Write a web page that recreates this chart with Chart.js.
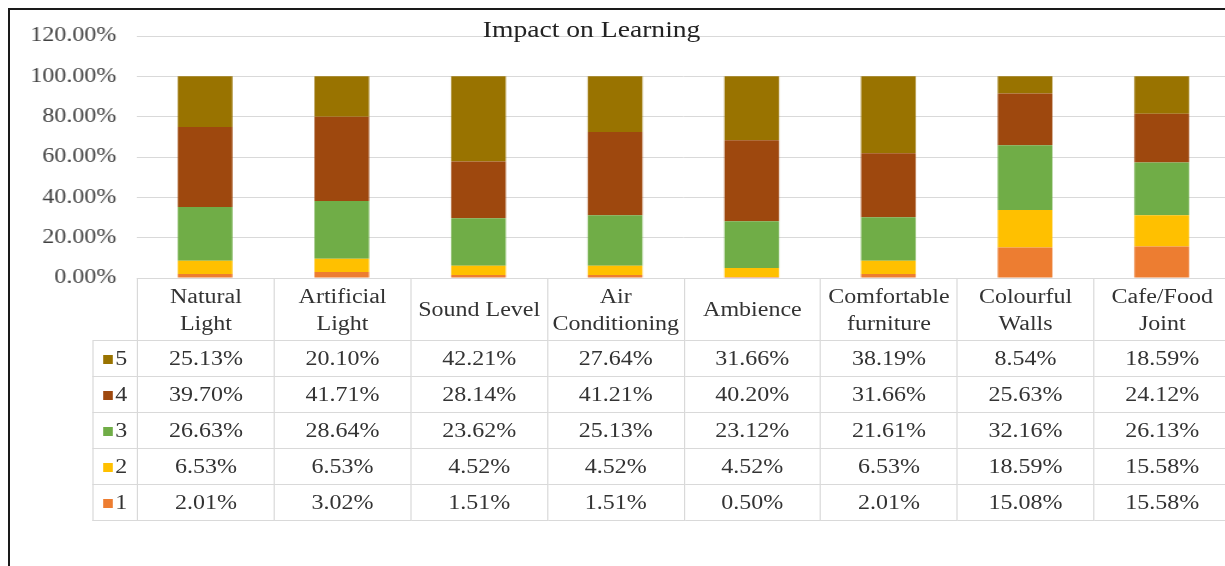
<!DOCTYPE html>
<html>
<head>
<meta charset="utf-8">
<script src="https://cdn.jsdelivr.net/npm/chart.js"></script>
<style>
  html, body { margin: 0; padding: 0; background: #fff; overflow: hidden; width: 1225px; height: 566px; }
  #frame { position: absolute; left: 8px; top: 8px; width: 1300px; height: 700px; border-top: 2px solid #1a1a1a; border-left: 2px solid #1a1a1a; }
  /* the source picture is stretched ~1.2x sideways, so the whole drawing is too */
  #wrap { position: absolute; left: 0; top: 0; width: 1040px; height: 566px; transform: scaleX(1.2); transform-origin: 0 0; }
  #title { position: absolute; left: 0; top: 18px; width: 986px; text-align: center; font: 23px/23px "Liberation Serif", "Times New Roman", serif; color: #222; }
  #chart { position: absolute; left: 0; top: 7px; }
  #table { position: absolute; left: 76.7px; top: 278px; border-collapse: collapse; table-layout: fixed; font-family: "Liberation Serif", "Times New Roman", serif; font-size: 20px; color: #333; }
  #table td { border: 1px solid #d9d9d9; text-align: center; padding: 0; height: 35px; white-space: nowrap; }
  #table tr.head td { height: 61px; line-height: 27px; }
  #table tr.head td.blank { border-top: none; border-left: none; }
  .sw { display: inline-block; width: 8px; height: 9px; margin-right: 2px; vertical-align: 1px; }
</style>
</head>
<body>
<div id="frame"></div>
<div id="wrap">
  <canvas id="chart" width="1030" height="300"></canvas>
  <div id="title">Impact on Learning</div>
  <table id="table"></table>
</div>
<script>
const categories = [
  ['Natural', 'Light'], ['Artificial', 'Light'], ['Sound Level'], ['Air', 'Conditioning'],
  ['Ambience'], ['Comfortable', 'furniture'], ['Colourful', 'Walls'], ['Cafe/Food', 'Joint']
];
const seriesNames = ['1', '2', '3', '4', '5'];
const seriesColors = ['#ED7D31', '#FFC000', '#70AD47', '#9E480E', '#997300'];
const s1 = [2.01, 3.02, 1.51, 1.51, 0.50, 2.01, 15.08, 15.58];
const s2 = [6.53, 6.53, 4.52, 4.52, 4.52, 6.53, 18.59, 15.58];
const s3 = [26.63, 28.64, 23.62, 25.13, 23.12, 21.61, 32.16, 26.13];
const s4 = [39.70, 41.71, 28.14, 41.21, 40.20, 31.66, 25.63, 24.12];
const s5 = [25.13, 20.10, 42.21, 27.64, 31.66, 38.19, 8.54, 18.59];
const series = [s1, s2, s3, s4, s5];

const serif = '"Liberation Serif", "Times New Roman", serif';

// note: tick padding also pads the plot top/bottom (12 + 17 = 29px)
new Chart(document.getElementById('chart').getContext('2d'), {
  type: 'bar',
  data: {
    labels: categories,
    datasets: series.map((vals, i) => ({
      label: seriesNames[i],
      data: vals,
      backgroundColor: seriesColors[i],
      borderWidth: 0,
      categoryPercentage: 1,
      barPercentage: 0.4
    }))
  },
  options: {
    responsive: false,
    animation: false,
    devicePixelRatio: 1,
    layout: { padding: { top: 0, bottom: 0, left: 0, right: 5 } },
    plugins: {
      legend: { display: false },
      title: { display: false },
      tooltip: { enabled: false }
    },
    scales: {
      x: { stacked: true, display: false },
      y: {
        stacked: true,
        min: 0,
        max: 120,
        ticks: {
          stepSize: 20,
          padding: 17,
          color: '#404040',
          font: { family: serif, size: 20 },
          callback: v => v.toFixed(2) + '%'
        },
        grid: { color: '#d9d9d9', drawTicks: false },
        border: { display: false },
        afterFit: s => { s.width = 114; }
      }
    }
  }
});

// data table under the plot, rows in Excel order (5 on top)
const table = document.getElementById('table');
let html = '<colgroup><col style="width:37.5px">' +
  categories.map(() => '<col style="width:113.85px">').join('') + '</colgroup>';
html += '<tr class="head"><td class="blank"></td>' +
  categories.map(c => '<td>' + c.join('<br>') + '</td>').join('') + '</tr>';
for (let i = series.length - 1; i >= 0; i--) {
  html += '<tr><td><span class="sw" style="background:' + seriesColors[i] + '"></span>' + seriesNames[i] + '</td>' +
    series[i].map(v => '<td>' + v.toFixed(2) + '%</td>').join('') + '</tr>';
}
table.innerHTML = html;
</script>
</body>
</html>
